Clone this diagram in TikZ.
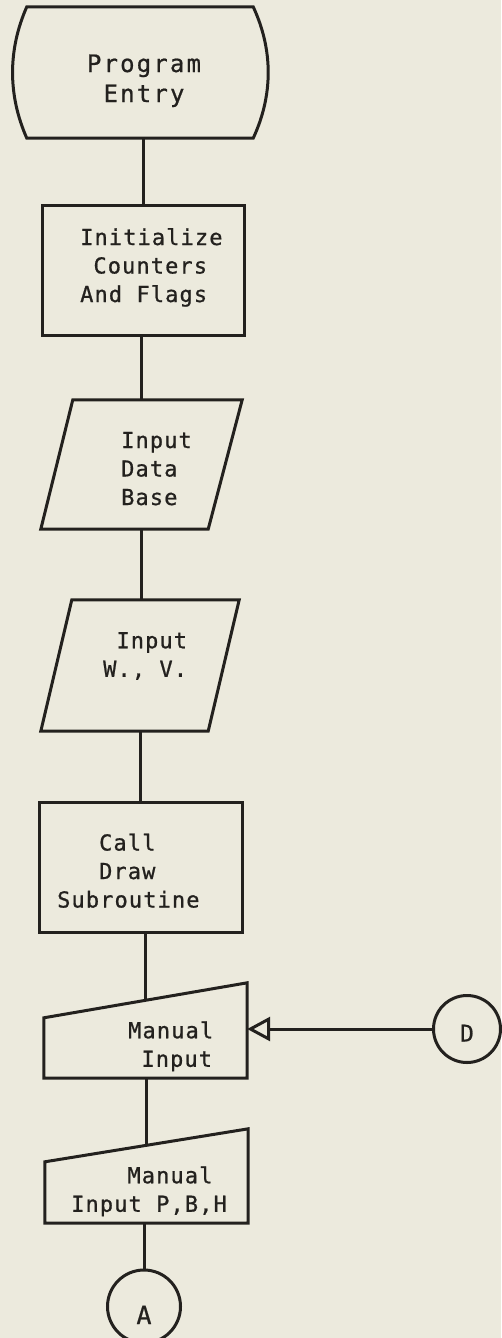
\documentclass[tikz,border=0pt]{standalone}
\usepackage{fontspec}
\usetikzlibrary{calc,arrows.meta}
\newfontfamily\tw[LetterSpace=5,FakeBold=0.8]{DejaVu Sans Mono}
\newfontfamily\twb[LetterSpace=9,FakeBold=0.8]{DejaVu Sans Mono}
\definecolor{bg}{RGB}{236,234,221}
\definecolor{ink}{RGB}{35,33,30}
\newcommand\stT{\rule{0pt}{18pt}}
\newcommand\stB{\rule[-6pt]{0pt}{6pt}}
\begin{document}
\begin{tikzpicture}[x=1pt,y=-1pt,
  shp/.style={draw=ink, line width=3pt, line join=miter},
  con/.style={draw=ink, line width=3pt},
  txt/.style={inner sep=0pt, align=left, text=ink, anchor=west, font=\tw\fontsize{22}{28.5}\selectfont},
  conn/.style={shp, circle, inner sep=0pt, text=ink}]
\fill[bg] (0,0) rectangle (501,1338);
\useasboundingbox (0,0) rectangle (501,1338);

% Program Entry (terminal)
\node[inner sep=0pt, minimum width=255pt, minimum height=131pt] (entry) at (140.5,72.5) {};
\draw[shp] ($(entry.north west)+(14,0)$) -- ($(entry.north east)+(-15,0)$)
  .. controls ($(entry.north east)+(5,43)$) and ($(entry.south east)+(5,-43)$) .. ($(entry.south east)+(-15,0)$)
  -- ($(entry.south west)+(14,0)$)
  .. controls ($(entry.south west)+(-5,-43)$) and ($(entry.north west)+(-5,43)$) .. cycle;
\node[inner sep=0pt, align=center, text=ink, font=\twb\fontsize{24}{30}\selectfont] (entryt) at (144,81) {\stT Program\\Entry\stB};

% Initialize
\node[shp, inner sep=0pt, minimum width=202pt, minimum height=130pt] (init) at (143,270) {};
\node[txt] (initt) at (80,267.5) {\stT Initialize\\\hphantom{I}Counters\\And Flags\stB};

% Input Data Base
\node[inner sep=0pt, minimum width=201pt, minimum height=129pt] (db) at (141.5,464.5) {};
\draw[shp] (db.south west) -- ($(db.north west)+(32,0)$) -- (db.north east) -- ($(db.south east)+(-34,0)$) -- cycle;
\node[txt] (dbt) at (121,470.5) {\stT Input\\Data\\Base\stB};

% Input W., V.
\node[inner sep=0pt, minimum width=198pt, minimum height=131pt] (wv) at (140,665.5) {};
\draw[shp] (wv.south west) -- ($(wv.north west)+(31,0)$) -- (wv.north east) -- ($(wv.south east)+(-31,0)$) -- cycle;
\node[txt] (wvt) at (103,656.5) {\stT\hphantom{I}Input\\W., V.\stB};

% Call Draw Subroutine
\node[shp, inner sep=0pt, minimum width=203pt, minimum height=130pt] (call) at (140.5,867) {};
\node[txt] (callt) at (57,873) {\stT\hphantom{xxx}Call\\\hphantom{xxx}Draw\\Subroutine\stB};

% Manual Input
\node[inner sep=0pt, minimum width=203pt, minimum height=95pt] (mi) at (145.5,1030.5) {};
\draw[shp] (mi.south west) -- ($(mi.north west)+(0,35)$) -- (mi.north east) -- (mi.south east) -- cycle;
\path ($(mi.north west)+(0,35)$) -- (mi.north east) coordinate[pos=0.5] (mitop);
\node[txt] (mit) at (128,1046.5) {\stT Manual\\\hphantom{I}Input\stB};

% Manual Input P,B,H
\node[inner sep=0pt, minimum width=203pt, minimum height=94pt] (mii) at (146.5,1176) {};
\draw[shp] (mii.south west) -- ($(mii.north west)+(0,33)$) -- (mii.north east) -- (mii.south east) -- cycle;
\path ($(mii.north west)+(0,33)$) -- (mii.north east) coordinate[pos=0.5] (miitop);
\node[txt] (miit) at (71,1191.5) {\stT\hphantom{xxxx}Manual\\Input P,B,H\stB};

% Connectors
\node[conn, minimum size=67pt, font=\twb\fontsize{23}{26}\selectfont, text height=25pt, text depth=0pt] (D) at (467,1029) {D};
\node[conn, minimum size=73pt, font=\twb\fontsize{25}{28}\selectfont, text height=35pt, text depth=0pt] (A) at (144,1306.5) {A};

% Flow lines
\draw[con] (init.north |- entry.south) -- (init.north);
\draw[con] (db.north |- init.south) -- (db.north);
\draw[con] (db.south) -- (db.south |- wv.north);
\draw[con] (wv.south) -- (wv.south |- call.north);
\draw[con] (call.south -| mitop) -- (mitop);
\draw[con] (mi.south -| miitop) -- (miitop);
\draw[con] (mii.south -| A.north) -- (A.north);
\draw[con, -{Triangle[open, length=23pt, width=24pt, line width=3pt]}] (D.west) -- (D.west -| mi.east);
\end{tikzpicture}
\end{document}
